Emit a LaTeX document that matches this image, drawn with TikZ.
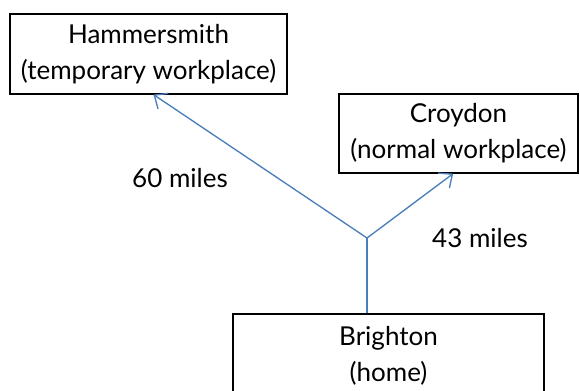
\documentclass[tikz,border=0pt]{standalone}
\usepackage{fontspec}
\setmainfont{Lato}
\usetikzlibrary{arrows.meta}
\definecolor{linkblue}{RGB}{74,126,187}
\tikzset{
  place/.style={draw,line width=0.9pt,align=center,inner sep=0pt,
    font=\fontsize{19.5}{27}\selectfont},
  route/.style={draw=linkblue,line width=1pt,-{Straight Barb[length=8pt,width=14pt,line width=1pt]}},
  dist/.style={font=\fontsize{19.5}{22}\selectfont}
}
\begin{document}
\begin{tikzpicture}[x=0.75pt,y=-0.75pt]
  \useasboundingbox (0,0) rectangle (580,391);

  %places
  \node[place,minimum width=207.75pt,minimum height=60pt] (ham) at (148.5,54) {Hammersmith\\(temporary workplace)};
  \node[place,minimum width=179.25pt,minimum height=59.25pt] (cro) at (458.5,133.5) {Croydon\\(normal workplace)};
  \node[place,minimum width=233.25pt,minimum height=63pt] (bri) at (388.5,356) {Brighton\\(home)};

  %routes
  \coordinate (fork) at (367,238);
  \draw[draw=linkblue,line width=1pt] (bri.north -| fork) -- (fork);
  \draw[route] (fork) -- ([xshift=3.75pt]ham.south);
  \draw[route] (fork) -- ([xshift=-4pt]cro.south);

  \node[dist] (far) at (180,178) {60 miles};
  \node[dist] (near) at (480,238) {43 miles};
\end{tikzpicture}
\end{document}
